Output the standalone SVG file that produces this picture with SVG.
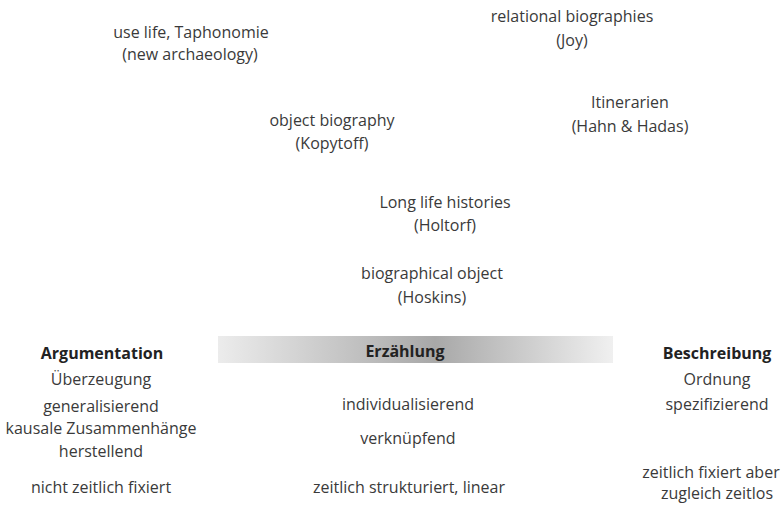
<svg xmlns="http://www.w3.org/2000/svg" width="784" height="505" viewBox="0 0 784 505">
<defs>
<linearGradient id="bar" x1="0" y1="0" x2="1" y2="0">
<stop offset="0" stop-color="#ececec"/>
<stop offset="0.55" stop-color="#a8a8a8"/>
<stop offset="1" stop-color="#f0f0f0"/>
</linearGradient>
</defs>
<style>
text{font-family:"Open Sans","Noto Sans",sans-serif;font-size:16px;fill:#3a3a3a;text-anchor:middle}
.h{font-weight:bold;fill:#222}
</style>
<rect width="784" height="505" fill="#fff"/>
<g id="use-life"><text x="191" y="38">use life, Taphonomie</text><text x="190" y="60">(new archaeology)</text></g>
<g id="relational"><text x="572" y="22">relational biographies</text><text x="572" y="46">(Joy)</text></g>
<g id="itinerarien"><text x="630" y="108">Itinerarien</text><text x="630" y="132">(Hahn &amp; Hadas)</text></g>
<g id="object-biography"><text x="332" y="126">object biography</text><text x="332" y="149">(Kopytoff)</text></g>
<g id="long-life"><text x="445" y="208">Long life histories</text><text x="445" y="231">(Holtorf)</text></g>
<g id="biographical-object"><text x="432" y="279">biographical object</text><text x="432" y="303">(Hoskins)</text></g>
<g id="erzaehlung-bar"><rect x="218" y="336" width="395" height="27" fill="url(#bar)"/><text class="h" x="405" y="357">Erzählung</text></g>
<g id="argumentation">
<text class="h" x="102" y="359">Argumentation</text>
<text x="101" y="385">Überzeugung</text>
<text x="101" y="412">generalisierend</text>
<text x="101" y="434">kausale Zusammenhänge</text>
<text x="101" y="457">herstellend</text>
<text x="101" y="493">nicht zeitlich fixiert</text>
</g>
<g id="erzaehlung">
<text x="408" y="410">individualisierend</text>
<text x="408" y="444">verknüpfend</text>
<text x="409" y="493">zeitlich strukturiert, linear</text>
</g>
<g id="beschreibung">
<text class="h" x="717" y="359">Beschreibung</text>
<text x="717" y="385">Ordnung</text>
<text x="717" y="410">spezifizierend</text>
<text x="711" y="478">zeitlich fixiert aber</text>
<text x="717" y="499">zugleich zeitlos</text>
</g>
<g id="connectors"></g>
</svg>
